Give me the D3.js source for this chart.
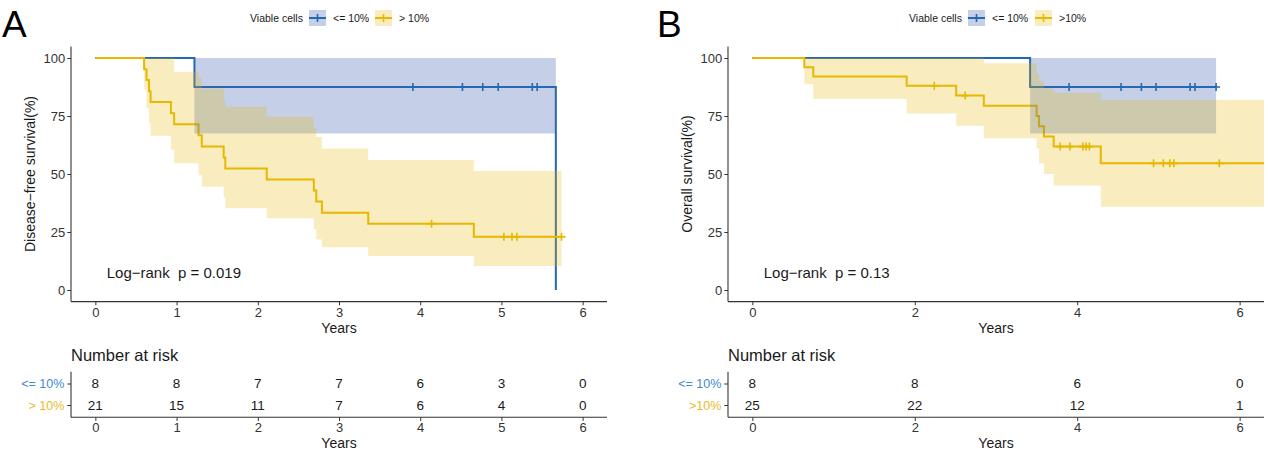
<!DOCTYPE html>
<html>
<head>
<meta charset="utf-8">
<script src="https://cdn.jsdelivr.net/npm/d3@7"></script>
<style>
  body { margin: 0; background: #fff; }
  svg text { font-family: "Liberation Sans", Arial, sans-serif; fill: #1a1a1a; white-space: pre; }
</style>
</head>
<body>
<script>
// ---- data ----
var groups = ['<= 10%', '> 10%'];
var groupsB = ['<= 10%', '>10%'];
var yTicks = [0, 25, 50, 75, 100];
var xTicksA = [0, 1, 2, 3, 4, 5, 6];
var xTicksB = [0, 2, 4, 6];

// panel A, disease-free survival
var aBlueTime = [0, 1.22, 5.67];
var aBlueSurv = [100, 87.5, 0];
var aBlueLow = [100, 67.5, null];
var aBlueUp = [100, 100, null];
var aBlueEnd = 5.67;
var aBlueCens = [3.91, 4.52, 4.77, 4.96, 5.38, 5.44];

var aYelTime = [0, 0.60, 0.63, 0.66, 0.68, 0.93, 0.97, 1.27, 1.31, 1.58, 1.60, 2.11, 2.69, 2.72, 2.79, 3.36, 4.66];
var aYelSurv = [100, 95.2, 90.5, 85.7, 81.0, 76.2, 71.4, 66.7, 61.9, 57.1, 52.4, 47.6, 42.9, 38.1, 33.3, 28.6, 22.9];
var aYelLow = [100, 86.5, 78.5, 72, 66.5, 60.5, 54.6, 49.5, 44.5, 40, 35.2, 30.9, 26.3, 21.8, 18.4, 14.7, 10.3];
var aYelUp = [100, 100, 100, 100, 100, 100, 94.1, 91.4, 86.9, 82, 79, 74.7, 70, 66, 61, 56, 51.3];
var aYelEnd = 5.74;
var aYelCens = [4.14, 5.03, 5.13, 5.19, 5.74];

var aRiskBlue = [8, 8, 7, 7, 6, 3, 0];
var aRiskYel = [21, 15, 11, 7, 6, 4, 0];

// panel B, overall survival
var bBlueTime = [0, 3.42];
var bBlueSurv = [100, 87.5];
var bBlueLow = [100, 67.5];
var bBlueUp = [100, 100];
var bBlueEnd = 5.71;
var bBlueCens = [3.90, 4.54, 4.79, 4.97, 5.39, 5.45, 5.71];

var bYelTime = [0, 0.64, 0.75, 1.90, 2.51, 2.85, 3.50, 3.53, 3.59, 3.71, 4.29];
var bYelSurv = [100, 96, 92, 88, 83.8, 79.4, 75.0, 70.6, 66.2, 61.8, 54.6];
var bYelLow = [100, 88.7, 82.3, 76.1, 70.8, 65.4, 61, 54.6, 50, 45, 35.9];
var bYelUp = [100, 100, 100, 100, 100, 97.7, 93, 90, 87, 85, 81.9];
var bYelEnd = 6.3;
var bYelCens = [2.24, 2.62, 3.79, 3.91, 4.07, 4.11, 4.15, 4.94, 5.06, 5.14, 5.19, 5.75];

var bRiskBlue = [8, 8, 6, 0];
var bRiskYel = [25, 22, 12, 1];

var blue = '#2369b0', yellow = '#e7b800';
var blueFill = '#3f5faf', yelFill = '#e7b800';

var svg = d3.select('body').append('svg')
    .attr('width', 1268)
    .attr('height', 455);

function curve(time, surv, low, up, end, cens) {
    return {time: time, surv: surv, low: low, up: up, end: end, cens: cens};
}

function survAt(c, t) {
    var s = c.surv[0];
    for (var i = 0; i < c.time.length; i++) {
        if (c.time[i] <= t) s = c.surv[i];
    }
    return s;
}

function linePts(c) {
    var pts = c.time.map(function(t, i) { return {t: t, v: c.surv[i]}; });
    pts.push({t: c.end, v: c.surv[c.surv.length - 1]});
    return pts;
}

function bandPts(c) {
    var pts = [];
    for (var i = 0; i < c.time.length; i++) {
        if (c.low[i] == null) {
            var p = pts[pts.length - 1];
            pts.push({t: c.time[i], lo: p.lo, up: p.up});
            return pts;
        }
        pts.push({t: c.time[i], lo: c.low[i], up: c.up[i]});
    }
    var q = pts[pts.length - 1];
    pts.push({t: c.end, lo: q.lo, up: q.up});
    return pts;
}

function cross(g, x, y, col) {
    g.append('path')
        .attr('d', 'M' + (x - 4) + ',' + y + 'H' + (x + 4) + 'M' + x + ',' + (y - 4) + 'V' + (y + 4))
        .attr('stroke', col)
        .attr('stroke-width', 1.6)
        .attr('fill', 'none');
}

function panel(o) {
    var g = svg.append('g');
    var x = d3.scaleLinear().domain([-0.3, 6.3]).range([o.left, o.left + 536]);
    var y = d3.scaleLinear().domain([-5, 105]).range([301.6, 46.4]);

    // panel letter
    g.append('text').attr('x', o.letterX).attr('y', 37)
        .attr('font-size', 37).style('fill', '#000').text(o.letter);

    // legend
    var lg = g.append('g').attr('transform', 'translate(' + o.legX + ',0)');
    lg.append('text').attr('x', 0).attr('y', 21.5).attr('font-size', 10.5).text('Viable cells');
    var keyCols = [[blueFill, 0.3, blue], [yelFill, 0.25, yellow]];
    o.legKeys.forEach(function(kx, i) {
        lg.append('rect').attr('x', kx).attr('y', 10).attr('width', 17).attr('height', 16)
            .attr('fill', keyCols[i][0]).attr('fill-opacity', keyCols[i][1]);
        lg.append('line').attr('x1', kx).attr('x2', kx + 17).attr('y1', 18).attr('y2', 18)
            .attr('stroke', keyCols[i][2]).attr('stroke-width', 2);
        cross(lg, kx + 8.5, 18, keyCols[i][2]);
        lg.append('text').attr('x', kx + 24).attr('y', 21.5).attr('font-size', 10.5).text(o.names[i]);
    });

    var line = d3.line().x(function(d) { return x(d.t); }).y(function(d) { return y(d.v); })
        .curve(d3.curveStepAfter);
    var area = d3.area().x(function(d) { return x(d.t); })
        .y0(function(d) { return y(d.lo); }).y1(function(d) { return y(d.up); })
        .curve(d3.curveStepAfter);

    var plot = g.append('g');
    var curves = [[o.blue, blue, blueFill, 0.3], [o.yel, yellow, yelFill, 0.25]];
    curves.forEach(function(c) {
        plot.append('path').attr('d', line(linePts(c[0])))
            .attr('fill', 'none').attr('stroke', c[1]).attr('stroke-width', 2);
    });
    curves.forEach(function(c) {
        plot.append('path').attr('d', area(bandPts(c[0])))
            .attr('fill', c[2]).attr('fill-opacity', c[3]);
    });
    curves.forEach(function(c) {
        c[0].cens.forEach(function(t) { cross(plot, x(t), y(survAt(c[0], t)), c[1]); });
    });

    // axes
    var xAxis = d3.axisBottom(x).tickValues(o.xTicks).tickSize(3.7).tickPadding(2).tickFormat(d3.format('d'));
    var yAxis = d3.axisLeft(y).tickValues(yTicks).tickSize(3.7).tickPadding(2);
    var ax = g.append('g').attr('transform', 'translate(0,301.6)').call(xAxis);
    var ay = g.append('g').attr('transform', 'translate(' + o.left + ',0)').call(yAxis);
    [ax, ay].forEach(function(a) {
        a.select('.domain').attr('stroke', '#333').attr('stroke-width', 1.1);
        a.selectAll('.tick line').attr('stroke', '#333');
        a.selectAll('.tick text').attr('font-size', 13).style('fill', '#333')
            .attr('font-family', '"Liberation Sans", Arial, sans-serif');
    });
    ax.select('.domain').attr('d', 'M' + o.left + ',0H' + (o.left + 536));
    ay.select('.domain').attr('d', 'M0,' + 46.4 + 'V' + 301.6);

    g.append('text').attr('x', o.left + 268).attr('y', 333).attr('text-anchor', 'middle')
        .attr('font-size', 14).text('Years');
    g.append('text').attr('transform', 'translate(' + (o.left - 36) + ',' + y(50) + ') rotate(-90)')
        .attr('text-anchor', 'middle').attr('font-size', 14).text(o.yTitle);
    g.append('text').attr('x', x(0.14)).attr('y', 278).attr('font-size', 15).text(o.pText);

    // risk table
    g.append('text').attr('x', o.left).attr('y', 361).attr('font-size', 16.5).text('Number at risk');
    var ry = d3.scalePoint().domain(o.names).range([383.5, 405]);
    var tAxisX = d3.axisBottom(x).tickValues(o.xTicks).tickSize(3.7).tickPadding(2).tickFormat(d3.format('d'));
    var tAxisY = d3.axisLeft(ry).tickSize(3.7).tickPadding(3);
    var tx = g.append('g').attr('transform', 'translate(0,417.3)').call(tAxisX);
    var ty = g.append('g').attr('transform', 'translate(' + o.left + ',0)').call(tAxisY);
    [tx, ty].forEach(function(a) {
        a.select('.domain').attr('stroke', '#333').attr('stroke-width', 1.1);
        a.selectAll('.tick line').attr('stroke', '#333');
        a.selectAll('.tick text').attr('font-size', 13).style('fill', '#333')
            .attr('font-family', '"Liberation Sans", Arial, sans-serif');
    });
    tx.select('.domain').attr('d', 'M' + o.left + ',0H' + (o.left + 536));
    ty.select('.domain').attr('d', 'M0,371.7V417.3');
    ty.selectAll('.tick text').attr('font-size', 12.5)
        .style('fill', function(d, i) { return i == 0 ? '#3f88d2' : '#e8bb2c'; });

    var rows = [o.riskBlue, o.riskYel];
    rows.forEach(function(r, i) {
        g.selectAll(null).data(r).enter().append('text')
            .attr('x', function(d, j) { return x(o.xTicks[j]); })
            .attr('y', ry(o.names[i]))
            .attr('dy', '0.36em')
            .attr('text-anchor', 'middle')
            .attr('font-size', 13.5)
            .text(function(d) { return d; });
    });
    g.append('text').attr('x', o.left + 268).attr('y', 448).attr('text-anchor', 'middle')
        .attr('font-size', 14).text('Years');
}

panel({
    letter: 'A', letterX: 2, left: 71, legX: 250, legKeys: [59, 125],
    names: groups, xTicks: xTicksA,
    yTitle: 'Disease\u2212free survival(%)', pText: 'Log\u2212rank  p = 0.019',
    blue: curve(aBlueTime, aBlueSurv, aBlueLow, aBlueUp, aBlueEnd, aBlueCens),
    yel: curve(aYelTime, aYelSurv, aYelLow, aYelUp, aYelEnd, aYelCens),
    riskBlue: aRiskBlue, riskYel: aRiskYel
});

panel({
    letter: 'B', letterX: 657, left: 728, legX: 909, legKeys: [59, 126],
    names: groupsB, xTicks: xTicksB,
    yTitle: 'Overall survival(%)', pText: 'Log\u2212rank  p = 0.13',
    blue: curve(bBlueTime, bBlueSurv, bBlueLow, bBlueUp, bBlueEnd, bBlueCens),
    yel: curve(bYelTime, bYelSurv, bYelLow, bYelUp, bYelEnd, bYelCens),
    riskBlue: bRiskBlue, riskYel: bRiskYel
});
</script>
</body>
</html>
